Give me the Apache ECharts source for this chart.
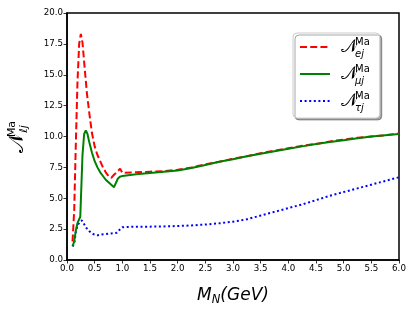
<!DOCTYPE html>
<html>
<head>
<meta charset="utf-8">
<script src="https://cdn.jsdelivr.net/npm/echarts@6/dist/echarts.min.js"></script>
<style>html,body{margin:0;padding:0;background:#fff}#c{width:416px;height:312px}</style>
</head>
<body>
<div id="c"></div>
<script>
// ---- data ----
const xE = [0.10,0.13,0.16,0.19,0.22,0.25,0.28,0.32,0.36,0.40,0.45,0.50,0.55,0.60,0.65,0.70,0.75,0.80,0.85,0.90,0.96,1.00,1.25,1.50,1.75,2.00,2.25,2.50,2.75,3.00,3.25,3.50,3.75,4.00,4.25,4.50,4.75,5.00,5.25,5.50,5.75,6.00];
const yE = [1.5,4.0,9.5,14.5,17.5,18.3,17.6,15.5,13.5,12.0,10.3,9.2,8.5,8.0,7.5,7.1,6.8,6.65,6.9,7.1,7.4,7.05,7.1,7.15,7.2,7.3,7.5,7.75,7.95,8.2,8.4,8.65,8.85,9.05,9.25,9.4,9.6,9.75,9.9,10.0,10.1,10.25];
const xMu = [0.10,0.13,0.16,0.19,0.22,0.24,0.26,0.28,0.31,0.34,0.37,0.40,0.45,0.50,0.55,0.60,0.65,0.70,0.75,0.80,0.85,0.88,0.92,0.96,1.00,1.25,1.50,1.75,2.00,2.25,2.50,2.75,3.00,3.25,3.50,3.75,4.00,4.25,4.50,4.75,5.00,5.25,5.50,5.75,6.00];
const yMu = [1.1,1.5,2.4,3.0,3.3,3.5,6.0,8.5,10.2,10.5,10.2,9.6,8.7,8.0,7.5,7.1,6.8,6.5,6.3,6.1,5.9,5.8,6.6,6.75,6.8,6.95,7.05,7.15,7.25,7.45,7.7,7.95,8.15,8.4,8.6,8.8,9.0,9.2,9.4,9.55,9.7,9.85,10.0,10.1,10.2];
const xTau = [0.10,0.13,0.16,0.19,0.23,0.27,0.31,0.35,0.40,0.45,0.50,0.55,0.60,0.70,0.80,0.90,0.95,1.00,1.25,1.50,1.75,2.00,2.25,2.50,2.75,3.00,3.25,3.50,3.75,4.00,4.25,4.50,4.75,5.00,5.25,5.50,5.75,6.00];
const yTau = [1.1,1.3,2.3,2.8,3.1,3.2,2.9,2.6,2.35,2.15,2.05,2.0,2.05,2.1,2.15,2.2,2.45,2.65,2.7,2.7,2.72,2.75,2.8,2.87,2.97,3.1,3.3,3.6,3.9,4.2,4.5,4.85,5.2,5.5,5.8,6.1,6.4,6.7];
const xTicks = {min: 0, max: 6, step: 0.5};
const yTicks = {min: 0, max: 20, step: 2.5};
const seriesNames = ['ej', 'μj', 'τj'];

const zip = (xs, ys) => xs.map((x, i) => [x, ys[i]]);
const NCAL = '\u{1D4A9}';
const F = 'DejaVu Sans';

const legendRich = {
  e0: {lineHeight: 3, fontSize: 1},
  sp1: {width: 6, lineHeight: 6}, w1: {width: 14, lineHeight: 6},
  sup: {fontSize: 10, lineHeight: 6, fontFamily: F, color: '#000'},
  sp2: {width: 6, lineHeight: 5},
  n: {fontSize: 18, lineHeight: 5, fontFamily: F, color: '#000'},
  sp3: {width: 6, lineHeight: 8}, w3: {width: 14, lineHeight: 8},
  sub: {fontSize: 10, lineHeight: 8, fontStyle: 'italic', fontFamily: F, color: '#000'}
};

const chart = echarts.init(document.getElementById('c'), null, {renderer: 'canvas'});
chart.setOption({
  animation: false,
  backgroundColor: '#fff',
  grid: {left: 67, right: 17, top: 13, bottom: 52, outerBoundsMode: 'none', containLabel: false, show: true, borderColor: '#000', borderWidth: 1.5, backgroundColor: 'transparent'},
  xAxis: {
    type: 'value', min: xTicks.min, max: xTicks.max, interval: xTicks.step,
    axisLine: {show: true, onZero: false, lineStyle: {color: '#000', width: 1.5}},
    axisTick: {show: true, inside: false, length: 3.5, lineStyle: {color: '#000', width: 0.8}},
    axisLabel: {color: '#000', fontSize: 8.7, fontFamily: F, margin: 4, formatter: v => v.toFixed(1)},
    splitLine: {show: false},
    name: '{m|M}{s|N}{m|(GeV)}', nameLocation: 'middle', nameGap: 26,
    nameTextStyle: {rich: {
      m: {fontSize: 17, fontStyle: 'italic', fontFamily: F, color: '#000', lineHeight: 20},
      s: {fontSize: 11.5, fontStyle: 'italic', fontFamily: F, color: '#000', lineHeight: 20, padding: [8,0,0,0]}
    }}
  },
  yAxis: {
    type: 'value', min: yTicks.min, max: yTicks.max, interval: yTicks.step,
    axisLine: {show: true, onZero: false, lineStyle: {color: '#000', width: 1.5}},
    axisTick: {show: true, inside: false, length: 3.5, lineStyle: {color: '#000', width: 0.8}},
    axisLabel: {color: '#000', fontSize: 8.7, fontFamily: F, margin: 4, formatter: v => v.toFixed(1)},
    splitLine: {show: false},
    name: '{w1|}{sup|Ma}\n{n|' + NCAL + '}\n{w3|}{sub|ℓj}', nameLocation: 'middle', nameGap: 38, nameRotate: 90,
    nameTextStyle: {rich: {
      w1: {width: 15, lineHeight: 6}, w3: {width: 15, lineHeight: 9},
      n: {fontSize: 21, lineHeight: 5, width: 32, align: 'left', fontFamily: F, color: '#000'},
      sup: {fontSize: 11, lineHeight: 6, width: 17, align: 'left', fontFamily: F, color: '#000'},
      sub: {fontSize: 11, lineHeight: 9, width: 17, align: 'left', fontStyle: 'italic', fontFamily: F, color: '#000'}
    }}
  },
  legend: {
    orient: 'vertical', left: 293, top: 33,
    itemWidth: 30, itemHeight: 10, itemGap: 3,
    padding: [3, 10, 4, 6],
    itemStyle: {opacity: 0},
    backgroundColor: '#fff', borderColor: '#cccccc', borderWidth: 1, borderRadius: 4,
    shadowColor: 'rgba(0,0,0,0.35)', shadowOffsetX: 2, shadowOffsetY: 2, shadowBlur: 0,
    data: seriesNames,
    formatter: name => '{e0|}\n{sp1|}{w1|}{sup|Ma}\n{sp2|}{n|' + NCAL + '}\n{sp3|}{w3|}{sub|' + name + '}',
    textStyle: {rich: legendRich}
  },
  series: [
    {name: seriesNames[0], type: 'line', data: zip(xE, yE), showSymbol: false, symbol: 'none', lineStyle: {color: '#ff0000', width: 2, type: [7, 3.2]}, itemStyle: {color: '#ff0000'}, z: 3},
    {name: seriesNames[1], type: 'line', data: zip(xMu, yMu), showSymbol: false, symbol: 'none', lineStyle: {color: '#008000', width: 2}, itemStyle: {color: '#008000'}, z: 4},
    {name: seriesNames[2], type: 'line', data: zip(xTau, yTau), showSymbol: false, symbol: 'none', lineStyle: {color: '#0000ff', width: 2, type: [2, 2.6]}, itemStyle: {color: '#0000ff'}, z: 2}
  ]
});
</script>
</body>
</html>
